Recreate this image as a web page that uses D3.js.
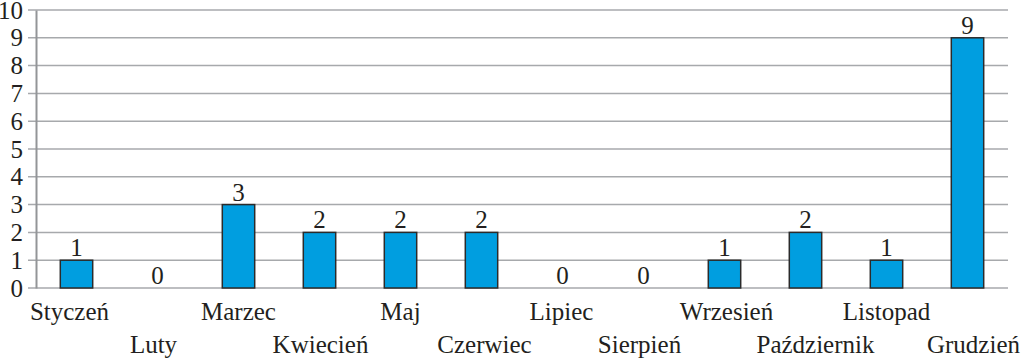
<!DOCTYPE html>
<html><head><meta charset="utf-8">
<script src="https://cdn.jsdelivr.net/npm/d3@7"></script>
</head><body style="margin:0"><svg id="c" width="1024" height="358"></svg>
<script>
const categories = ["Styczeń","Luty","Marzec","Kwiecień","Maj","Czerwiec","Lipiec","Sierpień","Wrzesień","Październik","Listopad","Grudzień"];
const values = [1,0,3,2,2,2,0,0,1,2,1,9];
const yTicks = [0,1,2,3,4,5,6,7,8,9,10];

(function(){
const FONT = '"Liberation Serif"';
const FS = "25px";
const INK = "#231f20";
// small horizontal nudges of the category labels, as placed in the original layout
const labelNudge = [-7,-4,0,1,0,3,-1,-4,2,10,0,6];
const svg = d3.select("#c");
const mL = 36, mR = 1008, mT = 10, mB = 288;
const x = d3.scaleBand().domain(categories).range([mL, mR]).paddingInner(0.6).paddingOuter(0.3);
const y = d3.scaleLinear().domain([0,10]).range([mB, mT]);

// gridlines
svg.append("g").selectAll("line").data(yTicks).join("line")
  .attr("x1", mL-8).attr("x2", mR)
  .attr("y1", d=>y(d)).attr("y2", d=>y(d))
  .attr("stroke", "#a7a9ac").attr("stroke-width", 1.5);

// y axis
const ya = svg.append("g").attr("transform", `translate(${mL},0)`)
  .call(d3.axisLeft(y).tickValues(yTicks).tickSize(0).tickPadding(13));
ya.attr("font-family", null).attr("font-size", null);
ya.select(".domain").attr("stroke", "#939598").attr("stroke-width", 2);
ya.selectAll("text").style("font-family", FONT).style("font-size", FS).style("fill", INK);

// bars
svg.append("g").selectAll("rect").data(values).join("rect")
  .attr("x", (d,i)=>x(categories[i])).attr("width", x.bandwidth())
  .attr("y", d=>y(d)).attr("height", d=>y(0)-y(d))
  .attr("fill", "#009ee0").attr("stroke", "#2b2b2b").attr("stroke-width", 1.5);

// value labels
svg.append("g").selectAll("text").data(values).join("text")
  .attr("x", (d,i)=>x(categories[i])+x.bandwidth()/2)
  .attr("y", d=>y(d)-4).attr("text-anchor","middle")
  .style("font-family", FONT).style("font-size", FS).style("fill", INK)
  .text(d=>d);

// category labels (staggered)
svg.append("g").selectAll("text").data(categories).join("text")
  .attr("x", (d,i)=>x(d)+x.bandwidth()/2+labelNudge[i])
  .attr("y", (d,i)=> i%2===0 ? 320 : 353)
  .attr("text-anchor","middle")
  .style("font-family", FONT).style("font-size", FS).style("fill", INK)
  .text(d=>d);
})();
</script></body></html>
